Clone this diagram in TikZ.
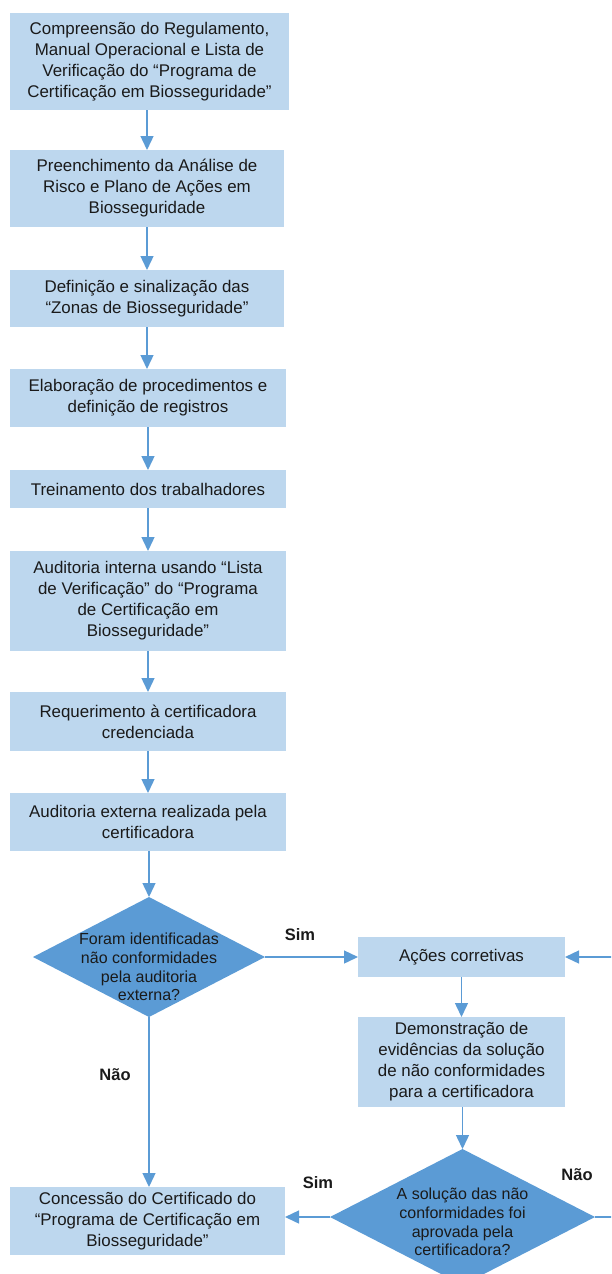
\documentclass[tikz,border=0pt]{standalone}
\usepackage{fontspec}
\setmainfont{Liberation Sans}
\usetikzlibrary{shapes.geometric,arrows.meta}
\definecolor{boxfill}{HTML}{BDD7EE}
\definecolor{dfill}{HTML}{5B9BD5}
\definecolor{arr}{HTML}{5B9BD5}
\definecolor{txt}{HTML}{1A1A1A}
\tikzset{
  stepbox/.style={rectangle, fill=boxfill, draw=none, inner sep=0pt, outer sep=0pt,
    minimum width=276pt, align=center, text=txt, font=\fontsize{16.9}{21}\selectfont},
  decision/.style={diamond, fill=dfill, draw=none, inner sep=0pt, outer sep=0pt},
  dtext/.style={align=center, text=txt, font=\fontsize{16}{18.6}\selectfont},
  answer/.style={text=txt, font=\bfseries\fontsize{16.5}{19}\selectfont},
  flow/.style={draw=arr, line width=1.4pt, -{Triangle[length=14pt,width=13pt]}},
  plainline/.style={draw=arr, line width=1.4pt}
}
\begin{document}
\begin{tikzpicture}[x=1pt,y=-1pt]
\useasboundingbox (0,0) rectangle (611,1274);
\clip (0,0) rectangle (611,1274);

\node[stepbox, minimum width=279pt, minimum height=97pt] (b1) at (149.5,61.5)
  {Compreensão do Regulamento,\\Manual Operacional e Lista de\\Verificação do “Programa de\\Certificação em Biosseguridade”};
\node[stepbox, minimum width=274pt, minimum height=77pt] (b2) at (147,188.5)
  {Preenchimento da Análise de\\Risco e Plano de Ações em\\Biosseguridade};
\node[stepbox, minimum width=274pt, minimum height=57pt] (b3) at (147,298.5)
  {Definição e sinalização das\\“Zonas de Biosseguridade”};
\node[stepbox, minimum height=58pt] (b4) at (148,398)
  {Elaboração de procedimentos e\\definição de registros};
\node[stepbox, minimum height=38pt] (b5) at (148,489)
  {Treinamento dos trabalhadores};
\node[stepbox, minimum height=100pt] (b6) at (148,601)
  {Auditoria interna usando “Lista\\de Verificação” do “Programa\\de Certificação em\\Biosseguridade”};
\node[stepbox, minimum height=59pt] (b7) at (148,721.5)
  {Requerimento à certificadora\\credenciada};
\node[stepbox, minimum height=58pt] (b8) at (148,822)
  {Auditoria externa realizada pela\\certificadora};

\node[decision, minimum width=232pt, minimum height=120pt] (d1) at (149,957) {};
\node[dtext] (d1t) at (149,967) {Foram identificadas\\não conformidades\\pela auditoria\\externa?};

\node[stepbox, minimum width=207pt, minimum height=40pt] (ac) at (461.5,957)
  {Ações corretivas};
\node[stepbox, minimum width=207pt, minimum height=90pt] (dem) at (461.5,1062)
  {Demonstração de\\evidências da solução\\de não conformidades\\para a certificadora};

\node[decision, minimum width=265pt, minimum height=136pt] (d2) at (462.5,1217) {};
\node[dtext] (d2t) at (462.5,1222) {A solução das não\\conformidades foi\\aprovada pela\\certificadora?};

\node[stepbox, minimum width=275pt, minimum height=68pt] (b9) at (147.5,1221)
  {Concessão do Certificado do\\“Programa de Certificação em\\Biosseguridade”};

\coordinate (r1) at (640,1217);
\coordinate (r2) at (640,957);

\draw[flow] (b1.south -| b2.north) -- (b2.north);
\draw[flow] (b2.south) -- (b3.north);
\draw[flow] (b3.south) -- (b3.south |- b4.north);
\draw[flow] (b4.south) -- (b5.north);
\draw[flow] (b5.south) -- (b6.north);
\draw[flow] (b6.south) -- (b7.north);
\draw[flow] (b7.south) -- (b8.north);
\draw[flow] (b8.south -| d1.north) -- (d1.north);
\draw[flow] (d1.east) -- (ac.west);
\draw[flow] (d1.south) -- (d1.south |- b9.north);
\draw[flow] (ac.south) -- (dem.north);
\draw[flow] (dem.south -| d2.north) -- (d2.north);
\draw[flow] (d2.west) -- (d2.west -| b9.east);
\draw[plainline] (d2.east) -- (r1) -- (r2);
\draw[flow] (r2) -- (ac.east);

\node[answer] (s1) at (300,935) {Sim};
\node[answer] (n1) at (115,1075) {Não};
\node[answer] (s2) at (318,1183) {Sim};
\node[answer] (n2) at (577,1175) {Não};
\end{tikzpicture}
\end{document}
